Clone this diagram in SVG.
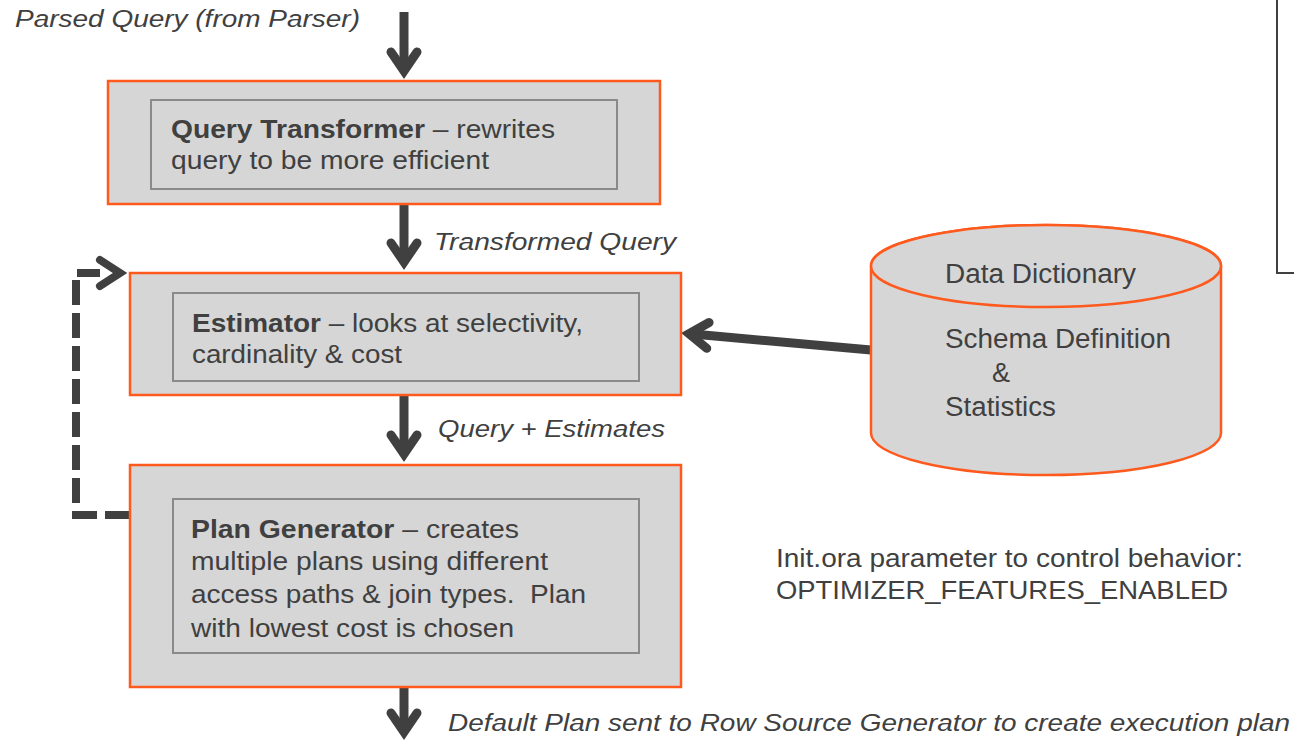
<svg xmlns="http://www.w3.org/2000/svg" width="1294" height="742" viewBox="0 0 1294 742">
  <style>
    .stage { fill: #d6d6d6; stroke: #ff5a1e; stroke-width: 2.5; }
    .inner { fill: none; stroke: #8a8a8a; stroke-width: 2; }
    .txt { font-family: "Liberation Sans", Arial, sans-serif; font-size: 25px; fill: #404040; }
    .lbl { font-family: "Liberation Sans", Arial, sans-serif; font-size: 24.5px; font-style: italic; fill: #404040; }
    .db { font-family: "Liberation Sans", Arial, sans-serif; font-size: 27px; fill: #404040; }
    .note { font-family: "Liberation Sans", Arial, sans-serif; font-size: 26px; fill: #404040; }
    .flow { fill: none; stroke: #404040; stroke-width: 9; }
    .loop { fill: none; stroke: #404040; stroke-width: 8; stroke-dasharray: 25 8; }
    .head { fill: none; stroke: #404040; stroke-width: 8; stroke-linecap: round; stroke-linejoin: miter; }
  </style>
  <defs>
    <marker id="chev" markerUnits="userSpaceOnUse" orient="auto" refX="0" refY="0"
            markerWidth="60" markerHeight="60" viewBox="-30 -30 60 60" overflow="visible">
      <path d="M-18,-13 L1,0 L-18,13" fill="none" stroke="#404040" stroke-width="9"
            stroke-linecap="round" stroke-linejoin="miter"/>
    </marker>
  </defs>

  <rect width="1294" height="742" fill="#ffffff"/>

  <!-- frame edge at the top right -->
  <path d="M1277,-2 V273 H1296" fill="none" stroke="#404040" stroke-width="2"/>

  <!-- input label -->
  <text class="lbl" x="15" y="27" font-size="24" textLength="345" lengthAdjust="spacingAndGlyphs">Parsed Query (from Parser)</text>

  <!-- connectors -->
  <g id="connectors">
    <path class="flow" d="M404,12 V70" marker-end="url(#chev)"/>
    <path class="flow" d="M404,204 V261" marker-end="url(#chev)"/>
    <path class="flow" d="M404,395 V453" marker-end="url(#chev)"/>
    <path class="flow" d="M404,687 V731" marker-end="url(#chev)"/>
    <path class="flow" d="M871,350 L690,333.8" marker-end="url(#chev)"/>
    <!-- feedback loop from plan generator back to estimator -->
    <path class="loop" d="M130,515 H76 V273 H100"/>
    <path class="head" d="M100,260 L120,273 L100,286"/>
  </g>

  <!-- edge labels -->
  <text class="lbl" x="434" y="250" textLength="242" lengthAdjust="spacingAndGlyphs">Transformed Query</text>
  <text class="lbl" x="438" y="437" textLength="227" lengthAdjust="spacingAndGlyphs">Query + Estimates</text>
  <text class="lbl" x="448" y="731" textLength="842" lengthAdjust="spacingAndGlyphs">Default Plan sent to Row Source Generator to create execution plan</text>

  <g id="query-transformer">
    <rect class="stage" x="108" y="81" width="552" height="123"/>
    <rect class="inner" x="151" y="100" width="466" height="89"/>
    <text class="txt" x="171" y="138" textLength="384" lengthAdjust="spacingAndGlyphs"><tspan font-weight="bold">Query Transformer</tspan> – rewrites</text>
    <text class="txt" x="171" y="169" textLength="318" lengthAdjust="spacingAndGlyphs">query to be more efficient</text>
  </g>

  <g id="estimator">
    <rect class="stage" x="130" y="273" width="551" height="122"/>
    <rect class="inner" x="173" y="293" width="466" height="88"/>
    <text class="txt" x="192" y="332" textLength="391" lengthAdjust="spacingAndGlyphs"><tspan font-weight="bold">Estimator</tspan> – looks at selectivity,</text>
    <text class="txt" x="192" y="363" textLength="210" lengthAdjust="spacingAndGlyphs">cardinality &amp; cost</text>
  </g>

  <g id="plan-generator">
    <rect class="stage" x="130" y="465" width="551" height="222"/>
    <rect class="inner" x="173" y="499" width="466" height="154"/>
    <text class="txt" x="191" y="538" textLength="328" lengthAdjust="spacingAndGlyphs"><tspan font-weight="bold">Plan Generator</tspan> – creates</text>
    <text class="txt" x="191" y="570" textLength="357" lengthAdjust="spacingAndGlyphs">multiple plans using different</text>
    <text class="txt" x="191" y="603" textLength="395" lengthAdjust="spacingAndGlyphs" xml:space="preserve">access paths &amp; join types.  Plan</text>
    <text class="txt" x="191" y="637" textLength="323" lengthAdjust="spacingAndGlyphs">with lowest cost is chosen</text>
  </g>

  <g id="data-dictionary">
    <path class="stage" d="M871,266 V433 A175,42 0 0 0 1221,433 V266 A175,41 0 0 0 871,266 Z"/>
    <ellipse class="stage" cx="1046" cy="266" rx="175" ry="41"/>
    <text class="db" x="945" y="283" textLength="191" lengthAdjust="spacingAndGlyphs">Data Dictionary</text>
    <text class="db" x="945" y="348" textLength="226" lengthAdjust="spacingAndGlyphs">Schema Definition</text>
    <text class="db" x="992" y="382">&amp;</text>
    <text class="db" x="945" y="416" textLength="111" lengthAdjust="spacingAndGlyphs">Statistics</text>
  </g>

  <g id="init-note">
    <text class="note" x="776" y="567" textLength="467" lengthAdjust="spacingAndGlyphs">Init.ora parameter to control behavior:</text>
    <text class="note" x="776" y="599" textLength="452" lengthAdjust="spacingAndGlyphs">OPTIMIZER_FEATURES_ENABLED</text>
  </g>
</svg>
